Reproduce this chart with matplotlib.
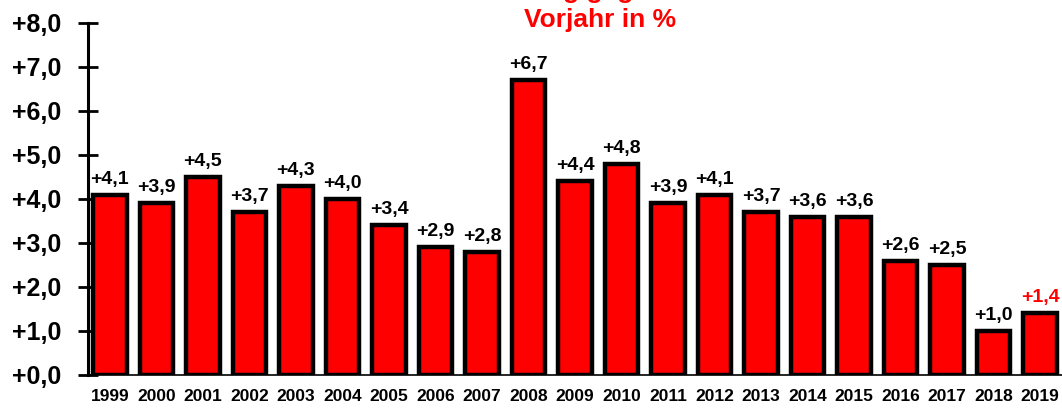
import matplotlib
matplotlib.use("Agg")
import matplotlib.pyplot as plt
from matplotlib import font_manager

years = ["1999", "2000", "2001", "2002", "2003", "2004", "2005", "2006", "2007", "2008",
         "2009", "2010", "2011", "2012", "2013", "2014", "2015", "2016", "2017", "2018", "2019"]
values = [4.1, 3.9, 4.5, 3.7, 4.3, 4.0, 3.4, 2.9, 2.8, 6.7,
          4.4, 4.8, 3.9, 4.1, 3.7, 3.6, 3.6, 2.6, 2.5, 1.0, 1.4]
yticks = [0, 1, 2, 3, 4, 5, 6, 7, 8]
title_lines = ["Veränderung gegenüber dem", "Vorjahr in %"]

names = {f.name for f in font_manager.fontManager.ttflist}
narrow = "Liberation Sans Narrow" if "Liberation Sans Narrow" in names else "Liberation Sans"
plt.rcParams["font.family"] = ["Liberation Sans", "DejaVu Sans"]

fig = plt.figure(figsize=(10.62, 4.09), dpi=100)
ax = fig.add_axes([88 / 1062, (409 - 375) / 409, (1062 - 88) / 1062, (375 - 23) / 409])

x = list(range(len(values)))
bars = ax.bar(x, values, width=0.72, color="#ff0000", edgecolor="black", linewidth=3.2, zorder=3)

for i, v in enumerate(values):
    col = "#ff0000" if i == len(values) - 1 else "black"
    ax.annotate(f"+{v:.1f}".replace(".", ","), (i, v), xytext=(0, 5), textcoords="offset points",
                ha="center", va="bottom", fontsize=14, fontweight="bold", color=col)

ax.set_xlim(-0.47, len(values) - 0.53)
ax.set_ylim(0, 8)
ax.set_yticks(yticks)
ax.set_yticklabels([f"+{t:.1f}".replace(".", ",") for t in yticks], fontsize=18, fontweight="bold")
ax.tick_params(axis="y", direction="inout", length=14, width=2, pad=12)
ax.set_xticks(x)
ax.set_xticklabels(years, fontsize=12.5, fontweight="bold", family=narrow)
ax.tick_params(axis="x", length=0, pad=10)

for s in ["top", "right"]:
    ax.spines[s].set_visible(False)
ax.spines["left"].set_linewidth(2.2)
ax.spines["bottom"].set_linewidth(1.2)
ax.spines["bottom"].set_zorder(4)

fig.text(0.565, 1 + 9 / 409, title_lines[0], ha="center", va="center", fontsize=19,
         fontweight="bold", color="#ff0000")
fig.text(0.565, 1 - 20 / 409, title_lines[1], ha="center", va="center", fontsize=19,
         fontweight="bold", color="#ff0000")

fig.savefig("out.png", dpi=100)
